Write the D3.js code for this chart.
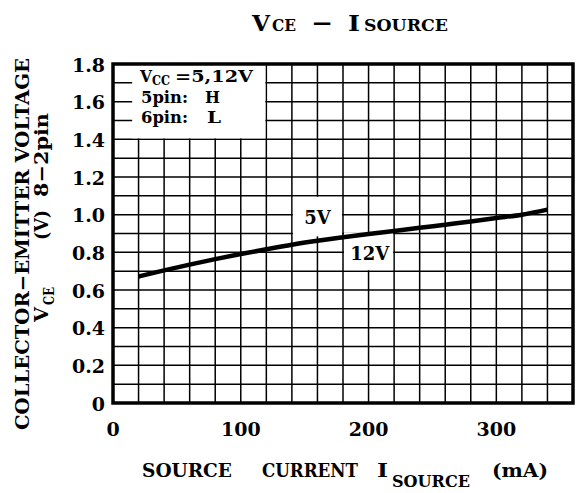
<!DOCTYPE html>
<html>
<head>
<meta charset="utf-8">
<script src="https://cdn.jsdelivr.net/npm/d3@7"></script>
<style>
  body { margin: 0; background: #fff; }
  text { font-family: "DejaVu Serif", serif; font-weight: bold; fill: #000; }
</style>
</head>
<body>
<svg id="chart" width="580" height="493"></svg>
<script>
// source current (mA) and V_CE (V)
const currentMA = [20, 40, 60, 80, 100, 120, 140, 160, 180, 200, 220, 240, 260, 280, 300, 320, 340];
const vce = [0.672, 0.704, 0.735, 0.764, 0.791, 0.816, 0.84, 0.861, 0.88, 0.897, 0.913, 0.93, 0.947, 0.964, 0.982, 1.0, 1.027];

const xTickValues = [0, 100, 200, 300];
const yTickValues = [0, 0.2, 0.4, 0.6, 0.8, 1.0, 1.2, 1.4, 1.6, 1.8];
const yTickLabels = ['0', '0.2', '0.4', '0.6', '0.8', '1.0', '1.2', '1.4', '1.6', '1.8'];
const curveLabels = ['5V', '12V'];

const margin = {top: 64, right: 7, bottom: 90, left: 113};
const width = 580 - margin.left - margin.right;
const height = 493 - margin.top - margin.bottom;

const svg = d3.select('#chart');
const g = svg.append('g')
  .attr('transform', `translate(${margin.left},${margin.top})`);

const x = d3.scaleLinear().domain([0, 360]).range([0, width]);
const y = d3.scaleLinear().domain([0, 1.8]).range([height, 0]);

// one piece of text, optionally stretched to a given length
function piece(parent, str, px, py, size, len) {
  const t = parent.append('text')
    .attr('x', px).attr('y', py)
    .style('font-size', size + 'px')
    .text(str);
  if (len) {
    t.attr('textLength', len).attr('lengthAdjust', 'spacingAndGlyphs');
  }
  return t;
}

// grid every 20 mA / 0.1 V
const grid = g.append('g').attr('class', 'grid');
grid.selectAll('line.v')
  .data(d3.range(20, 360, 20))
  .enter().append('line')
  .attr('x1', d => x(d)).attr('x2', d => x(d))
  .attr('y1', 0).attr('y2', height)
  .attr('stroke', '#000').attr('stroke-width', 1.5);
grid.selectAll('line.h')
  .data(d3.range(1, 18).map(d => d / 10))
  .enter().append('line')
  .attr('x1', 0).attr('x2', width)
  .attr('y1', d => y(d)).attr('y2', d => y(d))
  .attr('stroke', '#000').attr('stroke-width', 1.5);

// white patches behind the texts
g.append('rect')
  .attr('x', x(15)).attr('y', 0)
  .attr('width', x(120) - x(15) - 1).attr('height', y(1.4) - 1)
  .attr('fill', '#fff');
g.append('rect')
  .attr('x', x(140) + 1).attr('y', y(1.1) + 1)
  .attr('width', x(180) - x(140) - 2).attr('height', y(0.885) - y(1.1) - 1)
  .attr('fill', '#fff');
g.append('rect')
  .attr('x', x(180) + 1).attr('y', y(0.905))
  .attr('width', x(220) - x(180) - 2).attr('height', y(0.7) - y(0.905) - 1)
  .attr('fill', '#fff');

// curve
const line = d3.line()
  .x((d, i) => x(currentMA[i]))
  .y(d => y(d))
  .curve(d3.curveMonotoneX);
g.append('path')
  .datum(vce)
  .attr('d', line)
  .attr('fill', 'none')
  .attr('stroke', '#000')
  .attr('stroke-width', 4.5);

// frame
g.append('rect')
  .attr('x', 0).attr('y', 0)
  .attr('width', width).attr('height', height)
  .attr('fill', 'none')
  .attr('stroke', '#000')
  .attr('stroke-width', 3.5);

// tick labels
g.selectAll('text.ytick')
  .data(yTickValues)
  .enter().append('text')
  .attr('class', 'ytick')
  .attr('x', -8)
  .attr('y', d => y(d))
  .attr('dy', '0.4em')
  .attr('text-anchor', 'end')
  .style('font-size', '19px')
  .text((d, i) => yTickLabels[i]);

g.selectAll('text.xtick')
  .data(xTickValues)
  .enter().append('text')
  .attr('class', 'xtick')
  .attr('x', d => x(d))
  .attr('y', height + 33)
  .attr('text-anchor', 'middle')
  .style('font-size', '19px')
  .text(d => d);

// legend (page coordinates)
piece(svg, 'V', 140, 82, 16, 12);
piece(svg, 'CC', 152, 85, 12, 18);
piece(svg, '=5,12V', 175, 82, 17, 78);
piece(svg, '5pin:', 141, 103, 17, 47);
piece(svg, 'H', 205, 103, 17, 15);
piece(svg, '6pin:', 141, 123, 17, 47);
piece(svg, 'L', 207, 123, 17, 14);

// curve labels
g.append('text')
  .attr('x', x(160)).attr('y', y(0.95))
  .attr('text-anchor', 'middle')
  .style('font-size', '18px')
  .text(curveLabels[0]);
g.append('text')
  .attr('x', x(201)).attr('y', y(0.76))
  .attr('text-anchor', 'middle')
  .style('font-size', '18px')
  .text(curveLabels[1]);

// title
piece(svg, 'V', 252, 31, 23, 18);
piece(svg, 'CE', 272, 31, 17, 24);
piece(svg, '\u2212', 311, 31, 23, 22);
piece(svg, 'I', 348, 31, 23, 12);
piece(svg, 'SOURCE', 364, 31, 17, 84);

// x axis title
piece(svg, 'SOURCE', 142, 477, 19, 90);
piece(svg, 'CURRENT', 262, 477, 19, 96);
piece(svg, 'I', 377, 477, 19, 11);
piece(svg, 'SOURCE', 392, 487, 16, 78);
piece(svg, '(mA)', 492, 477, 19, 56);

// y axis title, rotated
const yt = svg.append('g');
function vpiece(str, bx, by, size, len) {
  const t = yt.append('text')
    .attr('transform', `translate(${bx},${by}) rotate(-90)`)
    .style('font-size', size + 'px')
    .text(str);
  if (len) {
    t.attr('textLength', len).attr('lengthAdjust', 'spacingAndGlyphs');
  }
  return t;
}
vpiece('COLLECTOR\u2212EMITTER VOLTAGE', 29, 430, 19, 372);
vpiece('V', 48, 322, 19, 15);
vpiece('CE', 54, 305, 14, 18);
vpiece('(V)', 48, 240, 19, 30);
vpiece('8\u22122pin', 48, 197, 19, 84);
</script>
</body>
</html>
